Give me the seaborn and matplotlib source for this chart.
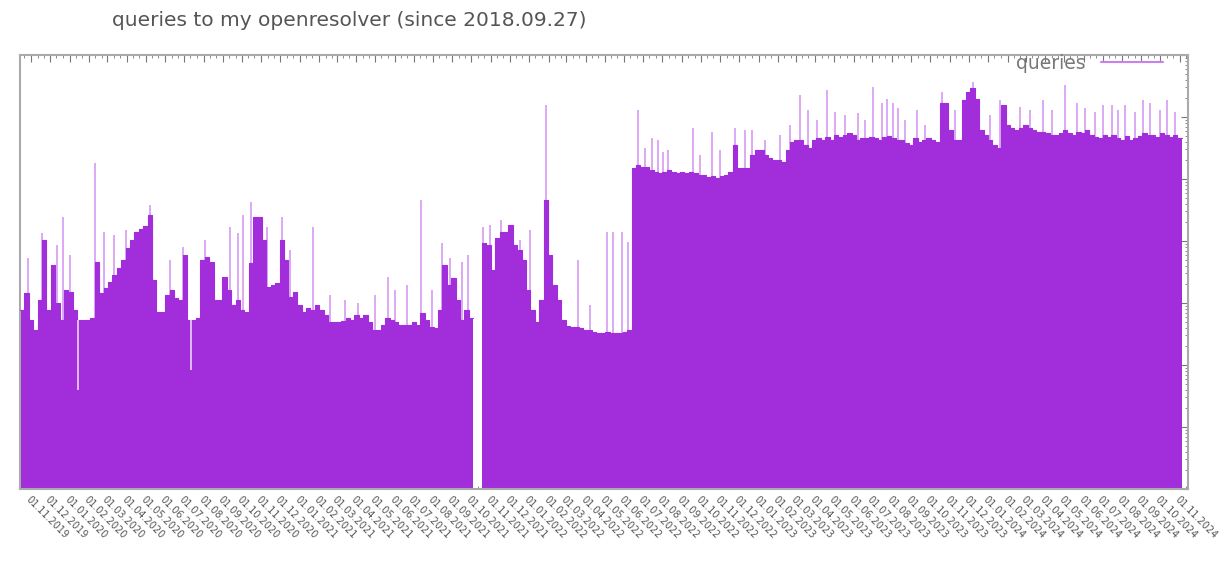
import numpy as np
import pandas as pd
import seaborn as sns
import matplotlib
matplotlib.use("Agg")
import matplotlib.pyplot as plt
import matplotlib.dates as mdates
import matplotlib.ticker as mticker
from matplotlib.lines import Line2D

# x range of the plot (weekly bins start at `start`)
start = "2019-10-14"
end = "2024-11-14"

# weekly base level of queries (log scale)
weekly_queries = [
    770, 1450, 530, 367, 1120, 10400, 770, 4100, 1000, 530, 1620, 1500,
    770, 530, 530, 530, 573, 4600, 1450, 1750, 2180, 2800, 3670, 4900,
    7700, 10400, 14000, 15600, 17500, 26300, 2350, 716, 716, 1350, 1620, 1200,
    1120, 5900, 530, 530, 573, 4900, 5500, 4600, 1120, 1120, 2630, 1620,
    930, 1120, 770, 716, 4400, 24400, 24400, 10400, 1810, 1950, 2100, 10400,
    4900, 1250, 1500, 930, 716, 830, 770, 930, 770, 640, 494, 494,
    494, 513, 573, 530, 640, 573, 640, 494, 367, 367, 440, 573,
    530, 494, 440, 440, 440, 494, 440, 690, 530, 410, 395, 770,
    4100, 1950, 2530, 1120, 530, 770, 573, 573, np.nan, 9300, 8600, 3400,
    11200, 14000, 14000, 18100, 8600, 7200, 4900, 1620, 770, 494, 1120, 45900,
    5900, 1950, 1120, 530, 426, 410, 410, 395, 367, 367, 340, 328,
    328, 340, 328, 328, 328, 340, 367, 150000, 168000, 155000, 155000, 140000,
    130000, 125000, 130000, 140000, 130000, 125000, 130000, 125000, 130000, 125000, 116000, 116000,
    108000, 112000, 104000, 112000, 116000, 130000, 353000, 150000, 150000, 150000, 244000, 294000,
    294000, 244000, 218000, 202000, 202000, 188000, 294000, 395000, 426000, 426000, 353000, 316000,
    426000, 458000, 426000, 477000, 426000, 513000, 477000, 513000, 552000, 513000, 426000, 458000,
    458000, 477000, 458000, 426000, 477000, 494000, 458000, 426000, 426000, 381000, 353000, 458000,
    395000, 426000, 458000, 426000, 395000, 1680000, 1680000, 617000, 426000, 426000, 1880000, 2530000,
    2940000, 1950000, 617000, 513000, 426000, 353000, 316000, 1560000, 743000, 665000, 617000, 665000,
    743000, 665000, 617000, 573000, 573000, 552000, 513000, 513000, 552000, 617000, 552000, 513000,
    573000, 552000, 617000, 513000, 477000, 458000, 513000, 477000, 513000, 458000, 426000, 494000,
    426000, 458000, 494000, 552000, 513000, 513000, 477000, 552000, 513000, 477000, 513000, 458000,
]

# single days with much higher counts
spike_dates = [
    "2019-10-27", "2019-11-18", "2019-11-23", "2019-12-12", "2019-12-21", "2020-01-02",
    "2020-02-10", "2020-02-25", "2020-03-12", "2020-03-31", "2020-05-08", "2020-06-09",
    "2020-06-29", "2020-08-03", "2020-09-12", "2020-09-25", "2020-10-03", "2020-10-15",
    "2020-11-10", "2020-12-04", "2020-12-17", "2021-01-22", "2021-02-18", "2021-03-14",
    "2021-04-04", "2021-05-01", "2021-05-21", "2021-06-02", "2021-06-21", "2021-07-13",
    "2021-07-30", "2021-08-15", "2021-08-28", "2021-09-05", "2021-09-16", "2021-09-26",
    "2021-10-20", "2021-10-31", "2021-11-17", "2021-12-02", "2021-12-17", "2022-01-02",
    "2022-01-28", "2022-02-11", "2022-03-20", "2022-04-08", "2022-05-05", "2022-05-14",
    "2022-05-29", "2022-06-07", "2022-06-23", "2022-07-04", "2022-07-15", "2022-07-25",
    "2022-08-02", "2022-08-10", "2022-09-19", "2022-09-30", "2022-10-19", "2022-11-01",
    "2022-11-25", "2022-12-10", "2022-12-22", "2023-01-11", "2023-02-04", "2023-02-20",
    "2023-03-08", "2023-03-21", "2023-04-04", "2023-04-20", "2023-05-03", "2023-05-19",
    "2023-06-08", "2023-06-19", "2023-07-02", "2023-07-16", "2023-07-24", "2023-08-03",
    "2023-08-11", "2023-08-22", "2023-09-10", "2023-09-23", "2023-10-20", "2023-11-10",
    "2023-12-08", "2024-01-04", "2024-01-20", "2024-02-21", "2024-03-08", "2024-03-29",
    "2024-04-12", "2024-05-03", "2024-05-22", "2024-06-03", "2024-06-19", "2024-07-02",
    "2024-07-16", "2024-07-26", "2024-08-06", "2024-08-22", "2024-09-04", "2024-09-15",
    "2024-10-01", "2024-10-12", "2024-10-25",
]
spike_queries = [
    5320, 13500, 8610, 8610, 24400, 5940,
    181000, 14000, 12500, 15000, 38100, 4940,
    8000, 10400, 16800, 13500, 26300, 42600,
    16800, 24400, 7200, 16800, 1350, 1120,
    1000, 1350, 2630, 1620, 1950, 45800,
    1620, 9300, 5320, 2350, 4600, 5940,
    16800, 18100, 21800, 15000, 10400, 15000,
    1560000, 1620, 4940, 930, 14000, 14000,
    14000, 9640, 1300000, 316000, 458000, 426000,
    272000, 294000, 665000, 244000, 573000, 294000,
    665000, 617000, 617000, 426000, 513000, 743000,
    2260000, 1300000, 895000, 2720000, 1200000, 1080000,
    1160000, 895000, 3050000, 1680000, 1950000, 1680000,
    1400000, 895000, 1300000, 743000, 2530000, 1300000,
    3670000, 1080000, 1880000, 1450000, 1300000, 1880000,
    1300000, 3280000, 1680000, 1400000, 1200000, 1560000,
    1560000, 1300000, 1560000, 1200000, 1880000, 1680000,
    1300000, 1880000, 1200000,
]

# single days with much lower counts
dip_dates = ["2020-01-14", "2020-07-12"]
dip_queries = [40, 83]

purple = "#a22ddb"
light = "#d9a2f2"

sns.set_style("white")
plt.rcParams["font.family"] = ["DejaVu Sans"]

weeks = pd.date_range(start, periods=len(weekly_queries) + 1, freq="7D")
vals = np.array(weekly_queries + [weekly_queries[-1]], dtype=float)
df = pd.DataFrame({"date": weeks, "queries": vals})
df["segment"] = df["queries"].isna().cumsum()

fig = plt.figure(figsize=(12.3, 5.85), dpi=100)
ax = fig.add_axes([20 / 1230, 1 - 489 / 585, 1168 / 1230, 434 / 585])

# spikes behind the filled area
ax.vlines(pd.to_datetime(spike_dates), 1, spike_queries, color=light, lw=1.3, zorder=1)
ax.fill_between(df["date"], 1, df["queries"], step="post", color=purple, lw=0, zorder=2)
sns.lineplot(data=df.dropna(), x="date", y="queries", units="segment", estimator=None,
             drawstyle="steps-post", color=purple, lw=0.8, ax=ax, zorder=3)

# dips drawn as light lines through the fill
dip_idx = np.searchsorted(weeks.values, pd.to_datetime(dip_dates).values, side="right") - 1
ax.vlines(pd.to_datetime(dip_dates), dip_queries, vals[dip_idx], color="#e6c4f6", lw=1.3, zorder=4)

ax.set_yscale("log")
ax.set_ylim(1, 1e7)
ax.set_xlim(pd.Timestamp(start), pd.Timestamp(end))
ax.set_xlabel("")
ax.set_ylabel("")

ax.xaxis.set_major_locator(mdates.MonthLocator())
ax.xaxis.set_minor_locator(mdates.DayLocator(bymonthday=[11, 21]))
ax.xaxis.set_major_formatter(mdates.DateFormatter("%d.%m.%Y"))
ax.yaxis.set_minor_locator(mticker.LogLocator(subs=np.arange(2, 10), numticks=100))

ax.tick_params(axis="x", which="both", direction="in", top=True, bottom=True,
               labelsize=7, labelcolor="#555555", color="#777777", pad=4)
ax.tick_params(axis="x", which="major", length=5)
ax.tick_params(axis="x", which="minor", length=2.5)
ax.tick_params(axis="y", which="both", direction="in", left=False, right=True,
               labelleft=False, color="#777777")
ax.tick_params(axis="y", which="major", length=5)
ax.tick_params(axis="y", which="minor", length=2.5)
plt.setp(ax.get_xticklabels(), rotation=-45, ha="left", rotation_mode="anchor")

for side in ["top", "right", "bottom", "left"]:
    ax.spines[side].set_color("#aaaaaa")
    ax.spines[side].set_linewidth(1.5)

handle = Line2D([], [], color="#c97ff0", lw=1.5)
ax.legend([handle], ["queries"], loc="upper right", frameon=False, markerfirst=False,
          fontsize=13.5, handlelength=3.3, labelcolor="#777777",
          bbox_to_anchor=(0.985, 1.02), borderaxespad=0)

fig.text(112 / 1230, 1 - 20 / 585, "queries to my openresolver (since 2018.09.27)",
         fontsize=14.5, color="#555555", ha="left", va="center")

fig.savefig("out.png", dpi=100)
